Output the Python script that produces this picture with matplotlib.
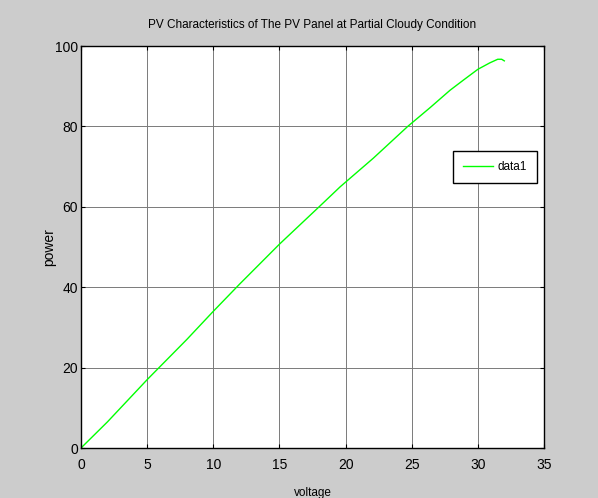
import matplotlib
matplotlib.use("Agg")
import matplotlib.pyplot as plt

# values
voltage = [0, 2, 5, 8, 10, 12, 15, 18, 19.6, 22.1, 24.7, 26.4, 27.9, 28.9, 30.0, 30.9, 31.5, 31.8, 32.0]
power = [0, 6.5, 17, 27, 34, 40.8, 50.7, 60, 65, 72.1, 80, 84.7, 89.0, 91.5, 94.2, 95.8, 96.7, 96.7, 96.3]
xticks = [0, 5, 10, 15, 20, 25, 30, 35]
yticks = [0, 20, 40, 60, 80, 100]

narrow = ["Liberation Sans Narrow", "Liberation Sans", "DejaVu Sans"]
regular = ["Liberation Sans", "DejaVu Sans"]

fig = plt.figure(figsize=(5.98, 4.98), dpi=100, facecolor="#cccccc")
ax = fig.add_subplot(111)
fig.subplots_adjust(left=81/598, right=544/598, bottom=1-448/498, top=1-46/498)
ax.set_facecolor("white")

ax.plot(voltage, power, color="#00ff00", lw=1.0, label="data1")

ax.set_xlim(0, 35)
ax.set_ylim(0, 100)
ax.set_xticks(xticks)
ax.set_yticks(yticks)
ax.grid(True, color="#7a7a7a", lw=0.7)
ax.tick_params(direction="in", length=3, width=0.8, top=True, right=True,
               labelsize=10, colors="black")
ax.tick_params(axis="x", pad=7)
ax.tick_params(axis="y", pad=2)
for lab in ax.get_xticklabels() + ax.get_yticklabels():
    lab.set_family(narrow)
for s in ax.spines.values():
    s.set_linewidth(1.0)
    s.set_color("black")

ax.set_title("PV Characteristics of The PV Panel at Partial Cloudy Condition",
             family=narrow, fontsize=8.5, pad=13)
ax.set_xlabel("voltage", family=narrow, fontsize=8.5, labelpad=11)
ax.set_ylabel("power", family=regular, fontsize=10, labelpad=-1)

leg = ax.legend(loc="upper right", bbox_to_anchor=(0.985, 0.739),
                fancybox=False, framealpha=1, edgecolor="black",
                prop={"family": narrow, "size": 8.5}, handlelength=2.5,
                handletextpad=0.4, borderpad=0.85, borderaxespad=0)
leg.get_frame().set_linewidth(1.0)

fig.savefig("out.png", dpi=100, facecolor=fig.get_facecolor())
